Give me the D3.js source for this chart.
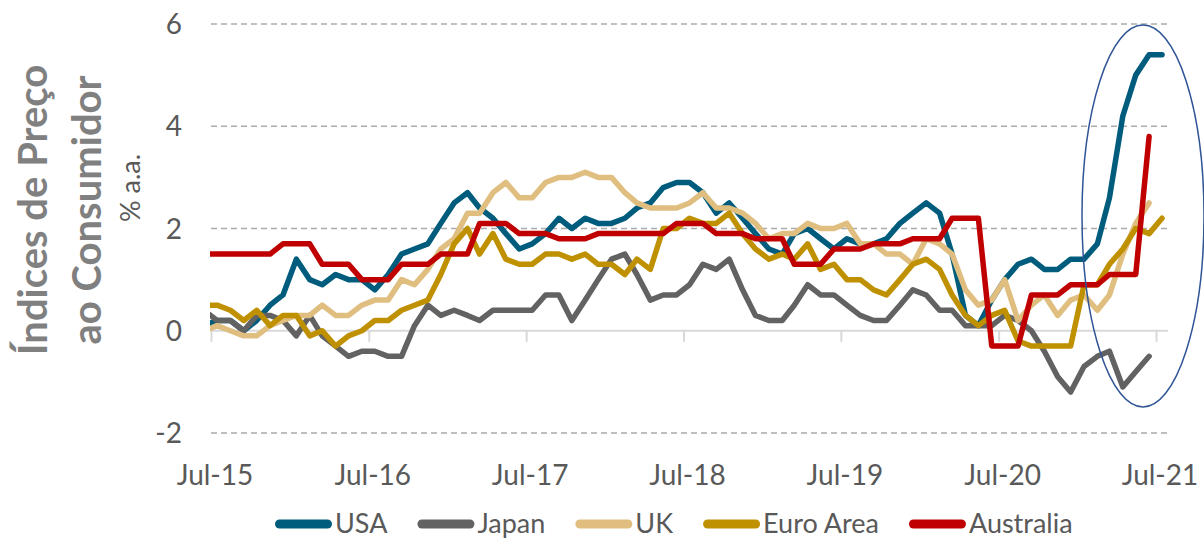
<!DOCTYPE html>
<html>
<head>
<meta charset="utf-8">
<script src="https://cdn.jsdelivr.net/npm/d3@7"></script>
<style>
  body { margin: 0; background: #fff; }
  text { font-family: Lato, "Open Sans", sans-serif; }
</style>
</head>
<body>
<svg id="chart"></svg>
<script>
// CPI year-on-year, monthly, first value = Jun-15 (clipped at the left edge)
const seriesNames = ['USA', 'Japan', 'UK', 'Euro Area', 'Australia'];
const seriesColors = ['#005C7C', '#626262', '#DFBE80', '#BF9000', '#C00000'];
const tickLabels = ['Jul-15', 'Jul-16', 'Jul-17', 'Jul-18', 'Jul-19', 'Jul-20', 'Jul-21'];
const yTicks = [-2, 0, 2, 4, 6];

const usa = [0.1, 0.2, 0.2, 0.0, 0.2, 0.5, 0.7,
  1.4, 1.0, 0.9, 1.1, 1.0, 1.0, 0.8, 1.1, 1.5, 1.6, 1.7, 2.1,
  2.5, 2.7, 2.4, 2.2, 1.9, 1.6, 1.7, 1.9, 2.2, 2.0, 2.2, 2.1,
  2.1, 2.2, 2.4, 2.5, 2.8, 2.9, 2.9, 2.7, 2.3, 2.5, 2.2, 1.9,
  1.6, 1.5, 1.9, 2.0, 1.8, 1.6, 1.8, 1.7, 1.7, 1.8, 2.1, 2.3,
  2.5, 2.3, 1.5, 0.3, 0.1, 0.6, 1.0, 1.3, 1.4, 1.2, 1.2, 1.4,
  1.4, 1.7, 2.6, 4.2, 5.0, 5.4, 5.4];
const japan = [0.4, 0.2, 0.2, 0.0, 0.3, 0.3, 0.2,
  -0.1, 0.3, -0.1, -0.3, -0.5, -0.4, -0.4, -0.5, -0.5, 0.1, 0.5, 0.3,
  0.4, 0.3, 0.2, 0.4, 0.4, 0.4, 0.4, 0.7, 0.7, 0.2, 0.6, 1.0,
  1.4, 1.5, 1.1, 0.6, 0.7, 0.7, 0.9, 1.3, 1.2, 1.4, 0.8, 0.3,
  0.2, 0.2, 0.5, 0.9, 0.7, 0.7, 0.5, 0.3, 0.2, 0.2, 0.5, 0.8,
  0.7, 0.4, 0.4, 0.1, 0.1, 0.1, 0.3, 0.2, 0.0, -0.4, -0.9, -1.2,
  -0.7, -0.5, -0.4, -1.1, -0.8, -0.5];
const uk = [0.0, 0.1, 0.0, -0.1, -0.1, 0.1, 0.2,
  0.3, 0.3, 0.5, 0.3, 0.3, 0.5, 0.6, 0.6, 1.0, 0.9, 1.2, 1.6,
  1.8, 2.3, 2.3, 2.7, 2.9, 2.6, 2.6, 2.9, 3.0, 3.0, 3.1, 3.0,
  3.0, 2.7, 2.5, 2.4, 2.4, 2.4, 2.5, 2.7, 2.4, 2.4, 2.3, 2.1,
  1.8, 1.9, 1.9, 2.1, 2.0, 2.0, 2.1, 1.7, 1.7, 1.5, 1.5, 1.3,
  1.8, 1.7, 1.5, 0.8, 0.5, 0.6, 1.0, 0.2, 0.5, 0.7, 0.3, 0.6,
  0.7, 0.4, 0.7, 1.5, 2.1, 2.5];
const euroArea = [0.5, 0.5, 0.4, 0.2, 0.4, 0.1, 0.3,
  0.3, -0.1, 0.0, -0.3, -0.1, 0.0, 0.2, 0.2, 0.4, 0.5, 0.6, 1.1,
  1.7, 2.0, 1.5, 1.9, 1.4, 1.3, 1.3, 1.5, 1.5, 1.4, 1.5, 1.3,
  1.3, 1.1, 1.4, 1.2, 2.0, 2.0, 2.2, 2.1, 2.1, 2.3, 1.9, 1.6,
  1.4, 1.5, 1.4, 1.7, 1.2, 1.3, 1.0, 1.0, 0.8, 0.7, 1.0, 1.3,
  1.4, 1.2, 0.7, 0.3, 0.1, 0.3, 0.4, -0.2, -0.3, -0.3, -0.3, -0.3,
  0.9, 0.9, 1.3, 1.6, 2.0, 1.9, 2.2];
// quarterly figures, held for three months from the quarter's last month
const australia = [1.5, 1.5, 1.5, 1.5, 1.5, 1.5, 1.7,
  1.7, 1.7, 1.3, 1.3, 1.3, 1.0, 1.0, 1.0, 1.3, 1.3, 1.3, 1.5,
  1.5, 1.5, 2.1, 2.1, 2.1, 1.9, 1.9, 1.9, 1.8, 1.8, 1.8, 1.9,
  1.9, 1.9, 1.9, 1.9, 1.9, 2.1, 2.1, 2.1, 1.9, 1.9, 1.9, 1.8,
  1.8, 1.8, 1.3, 1.3, 1.3, 1.6, 1.6, 1.6, 1.7, 1.7, 1.7, 1.8,
  1.8, 1.8, 2.2, 2.2, 2.2, -0.3, -0.3, -0.3, 0.7, 0.7, 0.7, 0.9,
  0.9, 0.9, 1.1, 1.1, 1.1, 3.8];

const allSeries = [usa, japan, uk, euroArea, australia];

const width = 1204;
const height = 541;
const svg = d3.select('#chart').attr('width', width).attr('height', height);

// month dates, points sit mid-month
const months = d3.timeMonth.range(new Date(2015, 5, 1), new Date(2021, 7, 1))
  .map(d => new Date(d.getFullYear(), d.getMonth(), 15));

const plotLeft = 211, plotRight = 1168;
const x = d3.scaleTime()
  .domain([new Date(2015, 6, 1), new Date(2021, 6, 1)])
  .range([plotLeft, 1156]);
const y = d3.scaleLinear().domain([-2, 6]).range([433, 24]);

const tickDates = tickLabels.map((t, i) => new Date(2015 + i, 6, 1));

// dashed gridlines
svg.append('g')
  .selectAll('line')
  .data(yTicks.filter(v => v !== 0))
  .enter()
  .append('line')
  .attr('x1', plotLeft).attr('x2', plotRight)
  .attr('y1', d => y(d)).attr('y2', d => y(d))
  .attr('stroke', '#ABABAB')
  .attr('stroke-width', 1.5)
  .attr('stroke-dasharray', '6,4');

// zero axis with yearly tick marks
const xAxis = d3.axisBottom(x)
  .tickValues(tickDates)
  .tickSize(11)
  .tickFormat('');
const axisG = svg.append('g')
  .attr('transform', `translate(0,${y(0)})`)
  .call(xAxis);
axisG.select('.domain').remove();
axisG.selectAll('.tick line').attr('stroke', '#D9D9D9').attr('stroke-width', 2);
axisG.append('line')
  .attr('x1', plotLeft).attr('x2', plotRight)
  .attr('stroke', '#D9D9D9').attr('stroke-width', 2);

// x tick labels
svg.append('g')
  .selectAll('text')
  .data(tickLabels)
  .enter()
  .append('text')
  .attr('x', (d, i) => x(tickDates[i]) + 4)
  .attr('y', 485)
  .attr('text-anchor', 'middle')
  .attr('font-size', 28)
  .attr('fill', '#595959')
  .text(d => d);

// y tick labels
svg.append('g')
  .selectAll('text')
  .data(yTicks)
  .enter()
  .append('text')
  .attr('x', 182)
  .attr('y', d => y(d))
  .attr('dy', '0.36em')
  .attr('text-anchor', 'end')
  .attr('font-size', 28)
  .attr('fill', '#595959')
  .text(d => d);

// axis titles
const titleG = svg.append('g').attr('transform', 'translate(0,210) rotate(-90)');
titleG.append('text')
  .attr('x', 0).attr('y', 47)
  .attr('text-anchor', 'middle')
  .attr('font-size', 40)
  .attr('font-weight', 'bold')
  .attr('fill', '#808080')
  .text('Índices de Preço');
titleG.append('text')
  .attr('x', 0).attr('y', 101)
  .attr('text-anchor', 'middle')
  .attr('font-size', 40)
  .attr('font-weight', 'bold')
  .attr('fill', '#808080')
  .text('ao Consumidor');
svg.append('text')
  .attr('transform', 'translate(140,188) rotate(-90)')
  .attr('text-anchor', 'middle')
  .attr('font-size', 27)
  .attr('fill', '#595959')
  .text('% a.a.');

// lines
svg.append('defs').append('clipPath').attr('id', 'plotClip')
  .append('rect').attr('x', plotLeft - 1).attr('y', 0)
  .attr('width', plotRight - plotLeft + 30).attr('height', height);

const line = d3.line()
  .x((d, i) => x(months[i]))
  .y(d => y(d));

svg.append('g')
  .attr('clip-path', 'url(#plotClip)')
  .selectAll('path')
  .data(allSeries)
  .enter()
  .append('path')
  .attr('d', line)
  .attr('fill', 'none')
  .attr('stroke', (d, i) => seriesColors[i])
  .attr('stroke-width', 5.5)
  .attr('stroke-linejoin', 'round')
  .attr('stroke-linecap', 'round');

// highlight ellipse
svg.append('ellipse')
  .attr('cx', 1143).attr('cy', 216)
  .attr('rx', 61).attr('ry', 191)
  .attr('fill', 'none')
  .attr('stroke', '#2F5597')
  .attr('stroke-width', 1.5);

// legend
const legend = svg.append('g');
let lx = 275;
seriesNames.forEach((name, i) => {
  legend.append('line')
    .attr('x1', lx + 4.5).attr('x2', lx + 52.5)
    .attr('y1', 524).attr('y2', 524)
    .attr('stroke', seriesColors[i])
    .attr('stroke-width', 9)
    .attr('stroke-linecap', 'round');
  const t = legend.append('text')
    .attr('x', lx + 60)
    .attr('y', 533)
    .attr('font-size', 27)
    .attr('fill', '#595959')
    .text(name);
  const w = t.node().getComputedTextLength();
  lx += 60 + w + 30;
});
</script>
</body>
</html>
